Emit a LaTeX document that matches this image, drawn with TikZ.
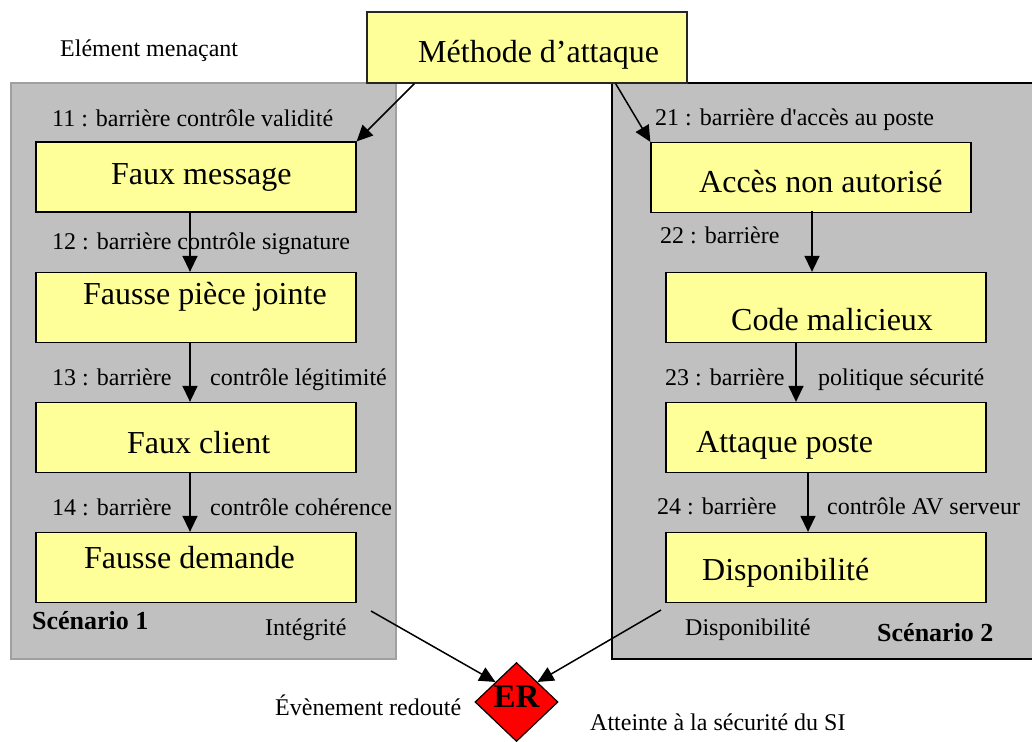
\documentclass[tikz,border=0pt]{standalone}
\usepackage{fontspec}
\setmainfont{Liberation Serif}[Ligatures=TeXOff]
\usetikzlibrary{arrows.meta,shapes.geometric}
\definecolor{ybox}{HTML}{FFFF99}
\definecolor{gfill}{HTML}{C0C0C0}
\definecolor{gline}{HTML}{A0A0A0}
\definecolor{erred}{HTML}{FF0000}
\tikzset{
  yellowbox/.style={draw=black, fill=ybox, line width=1.3pt, minimum width=320, minimum height=70, inner sep=0pt},
  bigtxt/.style={anchor=base west, inner sep=0pt, font=\fontsize{32}{36}\selectfont},
  smalltxt/.style={anchor=base west, inner sep=0pt, font=\fontsize{24}{28}\selectfont},
  scentxt/.style={anchor=base west, inner sep=0pt, font=\fontsize{26}{30}\selectfont\bfseries},
  arr/.style={line width=1.5pt, -{Triangle[length=16pt, width=15pt]}},
  plainline/.style={line width=1.5pt}
}
\begin{document}
\begin{tikzpicture}[x=1pt, y=-1pt]
\useasboundingbox (0,0) rectangle (1032,741);
% scenario panels
\node[draw=gline, fill=gfill, line width=1.3pt, minimum width=385, minimum height=576, inner sep=0pt] (sc1) at (203.5,371) {};
\node[draw=black, fill=gfill, line width=1.3pt, minimum width=430, minimum height=576, inner sep=0pt] (sc2) at (827,371) {};
% method box
\node[draw=black!85, fill=ybox, line width=1.3pt, minimum width=320, minimum height=71, inner sep=0pt] (meth) at (527,47.5) {};
\node[bigtxt] (tmeth) at (418,63) {Méthode d’attaque};
\node[smalltxt] (elem) at (60,57) {Elément menaçant};
% left boxes
\node[yellowbox] (fm) at (196,177) {};
\node[yellowbox] (fpj) at (196,307.5) {};
\node[yellowbox] (fc) at (196,437.5) {};
\node[yellowbox] (fd) at (196,567.5) {};
\node[bigtxt] (tfm) at (111,184) {Faux message};
\node[bigtxt] (tfpj) at (83,304) {Fausse pièce jointe};
\node[bigtxt] (tfc) at (127,453) {Faux client};
\node[bigtxt] (tfd) at (84,568) {Fausse demande};
% right boxes
\node[yellowbox] (ana) at (811,177.5) {};
\node[yellowbox] (cm) at (826,307.5) {};
\node[yellowbox] (ap) at (826,437.5) {};
\node[yellowbox] (dp) at (826,567.5) {};
\node[bigtxt] (tana) at (699,192) {Accès non autorisé};
\node[bigtxt] (tcm) at (731,330) {Code malicieux};
\node[bigtxt] (tap) at (696,452) {Attaque poste};
\node[bigtxt] (tdp) at (702,580) {Disponibilité};
% barrier labels left
\node[smalltxt] (b11) at (52,126) {11 : barrière contrôle validité};
\node[smalltxt] (b12) at (52,249) {12 : barrière contrôle signature};
\node[smalltxt] (b13) at (52,385) {13 : barrière};
\node[smalltxt] (b13b) at (210,385) {contrôle légitimité};
\node[smalltxt] (b14) at (52,515) {14 : barrière};
\node[smalltxt] (b14b) at (210,515) {contrôle cohérence};
\node[scentxt] (s1) at (32,629) {Scénario 1};
\node[smalltxt] (integ) at (265,635) {Intégrité};
% barrier labels right
\node[smalltxt] (b21) at (655,125) {21 : barrière d'accès au poste};
\node[smalltxt] (b22) at (660,243) {22 : barrière};
\node[smalltxt] (b23) at (665,385) {23 : barrière};
\node[smalltxt] (b23b) at (818,385) {politique sécurité};
\node[smalltxt] (b24) at (657,514) {24 : barrière};
\node[smalltxt] (b24b) at (827,514) {contrôle AV serveur};
\node[smalltxt] (dispo) at (685,635) {Disponibilité};
\node[scentxt] (s2) at (877,641) {Scénario 2};
% feared event
\node[draw=black, fill=erred, line width=1.2pt, shape=diamond, minimum width=83, minimum height=79, inner sep=0pt] (er) at (516.5,702) {};
\node[inner sep=0pt, font=\fontsize{33}{36}\selectfont\bfseries] (ter) at (516.5,697) {ER};
\node[smalltxt] (evr) at (275,715) {Évènement redouté};
\node[smalltxt] (att) at (590,730) {Atteinte à la sécurité du SI};
% connectors
\draw[arr] ([xshift=48]meth.south west) -- (fm.north east);
\draw[arr] ([xshift=-72]meth.south east) -- (ana.north west);
\draw[arr] ([xshift=-6]fm.south) -- ([xshift=-6]fpj.north);
\draw[arr] ([xshift=-6]fpj.south) -- ([xshift=-6]fc.north);
\draw[arr] ([xshift=-6]fc.south) -- ([xshift=-6]fd.north);
\draw[arr] ([xshift=1,yshift=2]ana.south) -- ([xshift=1]ana.south |- cm.north);
\draw[arr] ([xshift=-30]cm.south) -- ([xshift=-30]ap.north);
\draw[arr] ([xshift=-18]ap.south) -- ([xshift=-18]dp.north);
\coordinate (c1) at (371,611);
\coordinate (c2) at (661,610);
\draw[arr] (c1) -- (er.north west);
\draw[arr] (c2) -- (er.north east);
\end{tikzpicture}
\end{document}
